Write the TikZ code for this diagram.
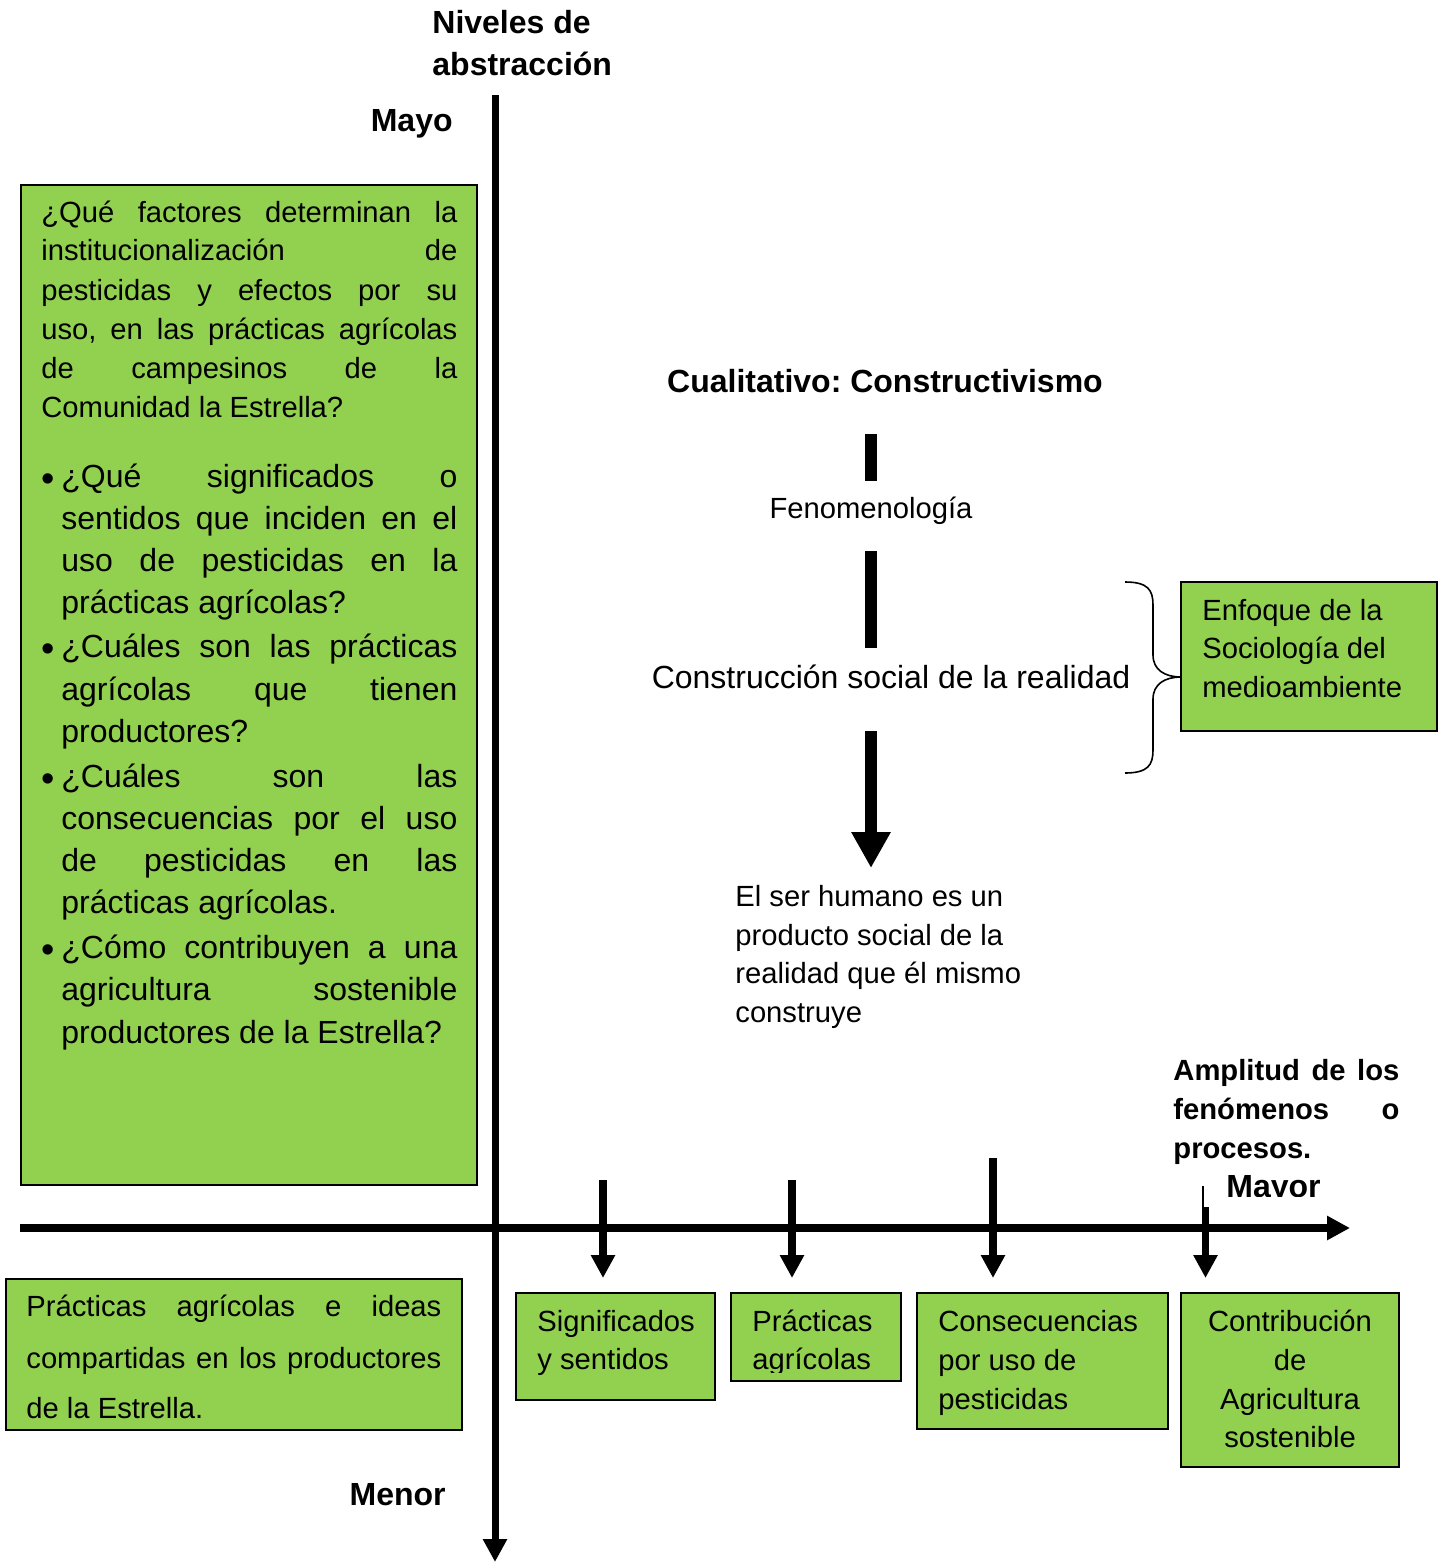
\documentclass[tikz,border=0pt]{standalone}
\usepackage{fontspec}
\setmainfont{Liberation Sans}
\usetikzlibrary{arrows.meta}
\definecolor{gfill}{RGB}{146,208,80}
\frenchspacing
\newcommand{\fs}{\fontsize{14.6pt}{17.5pt}\selectfont}
\newcommand{\fb}{\fontsize{16pt}{19pt}\selectfont}
\newcommand{\J}[2]{\makebox[#1][s]{#2}}
\newcommand{\bulletmark}{\raisebox{-2pt}{\fontsize{19pt}{19pt}\selectfont •}}
\tikzset{
  gbox/.style={draw=black, line width=1pt, fill=gfill, inner sep=0pt, outer sep=0pt},
  txt/.style={inner sep=0pt, anchor=base west, font=\fs},
  ltxt/.style={inner sep=0pt, anchor=base west, font=\fb},
  btxt/.style={inner sep=0pt, anchor=base west, font=\fb\bfseries},
  ctxt/.style={inner sep=0pt, anchor=base, font=\fs},
  axisline/.style={line width=3.8pt, -{Triangle[length=11.5pt,width=11.5pt]}},
  darr/.style={line width=4pt, -{Triangle[length=11.5pt,width=11.5pt]}},
  barline/.style={line width=6pt},
  bigarr/.style={line width=6pt, -{Triangle[length=18pt,width=18.5pt]}},
  bracel/.style={line width=0.8pt, line join=round}
}
\begin{document}
\begin{tikzpicture}[x=0.5pt,y=-0.5pt]
\useasboundingbox (0,0) rectangle (1447,1562);
\fill[white] (0,0) rectangle (1447,1562);

% ---------- boxes ----------
\node[gbox, minimum width=228pt, minimum height=500pt] (qbox) at (249,685) {};
\node[gbox, minimum width=228pt, minimum height=75.5pt] (pbox) at (234,1354.5) {};
\node[gbox, minimum width=99.5pt, minimum height=53.5pt] (sig) at (615.5,1346.5) {};
\node[gbox, minimum width=85pt, minimum height=44pt] (prac) at (816,1337) {};
\node[gbox, minimum width=125.5pt, minimum height=68pt] (cons) at (1042.5,1361) {};
\node[gbox, minimum width=109pt, minimum height=87pt] (contr) at (1290,1380) {};
\node[gbox, minimum width=128pt, minimum height=74.5pt] (enf) at (1309,656.5) {};

% ---------- axes ----------
\coordinate (vtop) at (495,95);
\coordinate (vbot) at (495,1562);
\coordinate (hl) at (20,1228);
\coordinate (hr) at (1350,1228);
\draw[axisline, line width=3.5pt] (vtop) -- (vbot);
\draw[axisline] (hl) -- (hr);

% ---------- axis labels ----------
\node[btxt] (niv1) at (432,34) {Niveles de};
\node[btxt] (niv2) at (432,76) {abstracción};
\node[btxt, anchor=base east] (mayo) at (453,132) {Mayo};
\node[btxt, anchor=base east] (menor) at (446,1505) {Menor};
\node[txt, font=\fs\bfseries] (amp1) at (1173,1080) {\J{113pt}{Amplitud de los}};
\node[txt, font=\fs\bfseries] (amp2) at (1173,1119) {\J{113pt}{fenómenos o}};
\node[txt, font=\fs\bfseries] (amp3) at (1173,1158) {procesos.};
\begin{scope}
  \clip (1210,1150) rectangle (1350,1196.5);
  \node[btxt] (mayor) at (1226,1197) {Mayor};
\end{scope}

% ---------- left question box text ----------
\node[txt] (q1) at (41,223) {\J{208pt}{¿Qué factores determinan la}};
\node[txt] (q2) at (41,261) {\J{208pt}{institucionalización de}};
\node[txt] (q3) at (41,300) {\J{208pt}{pesticidas y efectos por su}};
\node[txt] (q4) at (41,339) {\J{208pt}{uso, en las prácticas agrícolas}};
\node[txt] (q5) at (41,378) {\J{208pt}{de campesinos de la}};
\node[txt] (q6) at (41,417) {Comunidad la Estrella?};

\node[ltxt] (bu1) at (41,487) {\bulletmark};
\node[ltxt] (b1a) at (61,487) {\J{198pt}{¿Qué significados o}};
\node[ltxt] (b1b) at (61,529) {\J{198pt}{sentidos que inciden en el}};
\node[ltxt] (b1c) at (61,571) {\J{198pt}{uso de pesticidas en la}};
\node[ltxt] (b1d) at (61,613) {prácticas agrícolas?};

\node[ltxt] (bu2) at (41,657) {\bulletmark};
\node[ltxt] (b2a) at (61,657) {\J{198pt}{¿Cuáles son las prácticas}};
\node[ltxt] (b2b) at (61,700) {\J{198pt}{agrícolas que tienen}};
\node[ltxt] (b2c) at (61,742) {productores?};

\node[ltxt] (bu3) at (41,787) {\bulletmark};
\node[ltxt] (b3a) at (61,787) {\J{198pt}{¿Cuáles son las}};
\node[ltxt] (b3b) at (61,829) {\J{198pt}{consecuencias por el uso}};
\node[ltxt] (b3c) at (61,871) {\J{198pt}{de pesticidas en las}};
\node[ltxt] (b3d) at (61,913) {prácticas agrícolas.};

\node[ltxt] (bu4) at (41,958) {\bulletmark};
\node[ltxt] (b4a) at (61,958) {\J{198pt}{¿Cómo contribuyen a una}};
\node[ltxt] (b4b) at (61,1000) {\J{198pt}{agricultura sostenible}};
\node[ltxt] (b4c) at (61,1043) {productores de la Estrella?};

% ---------- bottom-left box text ----------
\node[txt] (p1) at (26,1316) {\J{207.5pt}{Prácticas agrícolas e ideas}};
\node[txt] (p2) at (26,1368) {\J{207.5pt}{compartidas en los productores}};
\node[txt] (p3) at (26,1418) {de la Estrella.};

% ---------- bottom boxes text ----------
\node[txt] (s1) at (537,1331) {Significados};
\node[txt] (s2) at (537,1369) {y sentidos};
\node[txt] (pr1) at (752,1331) {Prácticas};
\begin{scope}
  \clip (740,1300) rectangle (895,1372);
  \node[txt] (pr2) at (752,1369) {agrícolas};
\end{scope}
\node[txt] (c1) at (938,1331) {Consecuencias};
\node[txt] (c2) at (938,1370) {por uso de};
\node[txt] (c3) at (938,1409) {pesticidas};
\node[ctxt] (k1) at (1290,1331) {Contribución};
\node[ctxt] (k2) at (1290,1370) {de};
\node[ctxt] (k3) at (1290,1409) {Agricultura};
\node[ctxt] (k4) at (1290,1447) {sostenible};

% ---------- right box text ----------
\node[txt] (e1) at (1202,620) {Enfoque de la};
\node[txt] (e2) at (1202,658) {Sociología del};
\node[txt] (e3) at (1202,697) {medioambiente};

% ---------- central column ----------
\node[ctxt, font=\fb\bfseries] (cual) at (885,392) {Cualitativo: Constructivismo};
\node[ctxt] (fen) at (871,518) {Fenomenología};
\node[ctxt, font=\fb] (csr) at (891,688) {Construcción social de la realidad};
\node[txt] (h1) at (735,906) {El ser humano es un};
\node[txt] (h2) at (735,945) {producto social de la};
\node[txt] (h3) at (735,983) {realidad que él mismo};
\node[txt] (h4) at (735,1022) {construye};

\coordinate (m1a) at (871,434);
\coordinate (m1b) at (871,481);
\coordinate (m2a) at (871,551);
\coordinate (m2b) at (871,648);
\coordinate (m3a) at (871,731);
\coordinate (m3b) at (871,868);
\draw[barline] (m1a) -- (m1b);
\draw[barline] (m2a) -- (m2b);
\draw[bigarr] (m3a) -- (m3b);

% ---------- brace ----------
\draw[bracel] (1125,582) .. controls (1148,582) and (1153,590) .. (1153,605)
  -- (1153,655) .. controls (1153,670) and (1165,677) .. (enf.west |- 0,677)
  .. controls (1165,677) and (1153,684) .. (1153,699)
  -- (1153,750) .. controls (1153,765) and (1148,773) .. (1125,773);

% ---------- down arrows ----------
\coordinate (t1) at (603,1180);
\coordinate (t2) at (792,1180);
\coordinate (t3) at (993,1158);
\coordinate (t4) at (1205.5,1207);
\coordinate (t4thin) at (1203,1186);
\draw[darr, shorten >=7.5pt] (t1) -- (t1 |- sig.north);
\draw[darr, shorten >=7.5pt] (t2) -- (t2 |- prac.north);
\draw[darr, shorten >=7.5pt] (t3) -- (t3 |- cons.north);
\draw[line width=1.4pt] (t4thin) -- (t4thin |- t4);
\draw[darr, line width=3.8pt, shorten >=7.5pt] (t4) -- (t4 |- contr.north);
\end{tikzpicture}
\end{document}
